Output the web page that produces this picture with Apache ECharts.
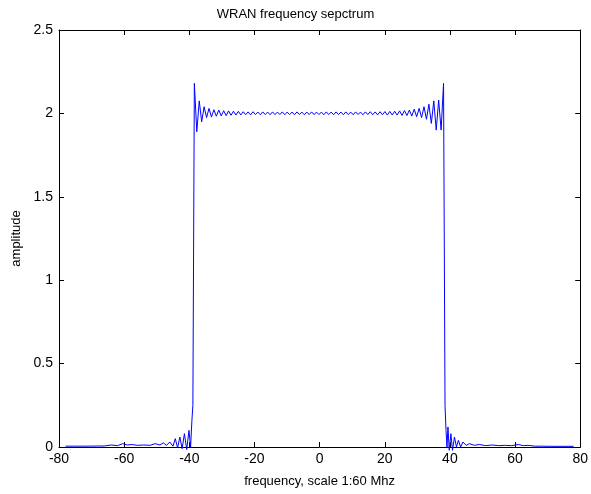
<!DOCTYPE html>
<html>
<head>
<meta charset="utf-8">
<script src="https://cdn.jsdelivr.net/npm/echarts@6/dist/echarts.min.js"></script>
<style>html,body{margin:0;padding:0;background:#fff;}#c{width:591px;height:494px;}</style>
</head>
<body>
<div id="c"></div>
<script>
// Left stop-band tail
var leftTailX = [-78, -72, -66, -64, -62, -60.5, -59, -57.5, -56, -54, -52, -50.5, -49, -48, -47, -46, -45, -44.3, -43.6, -42.9, -42.2, -41.5, -40.8, -40.1, -39.6, -39.2, -38.9];
var leftTailY = [0.005, 0.005, 0.006, 0.012, 0.008, 0.02, 0.012, 0.015, 0.01, 0.012, 0.01, 0.02, 0.012, 0.025, 0.01, 0.03, 0.005, 0.05, -0.005, 0.06, -0.01, 0.08, -0.015, 0.1, 0.0, 0.16, 0.25];

// Pass band ripple (peaks and troughs)
var passX = [-38.45, -37.70, -36.95, -36.20, -35.45, -34.70, -33.95, -33.20, -32.45, -31.70,
  -30.95, -30.20, -29.45, -28.70, -27.95, -27.20, -26.45, -25.70, -24.95, -24.20,
  -23.45, -22.70, -21.95, -21.20, -20.45, -19.70, -18.95, -18.20, -17.45, -16.70,
  -15.95, -15.20, -14.45, -13.70, -12.95, -12.20, -11.45, -10.70, -9.95, -9.20,
  -8.45, -7.70, -6.95, -6.20, -5.45, -4.70, -3.95, -3.20, -2.45, -1.70,
  -0.95, -0.20, 0.55, 1.30, 2.05, 2.80, 3.55, 4.30, 5.05, 5.80,
  6.55, 7.30, 8.05, 8.80, 9.55, 10.30, 11.05, 11.80, 12.55, 13.30,
  14.05, 14.80, 15.55, 16.30, 17.05, 17.80, 18.55, 19.30, 20.05, 20.80,
  21.55, 22.30, 23.05, 23.80, 24.55, 25.30, 26.05, 26.80, 27.55, 28.30,
  29.05, 29.80, 30.55, 31.30, 32.05, 32.80, 33.55, 34.30, 35.05, 35.80,
  36.55, 37.30, 38.05];
var passY = [2.18, 1.89, 2.075, 1.95, 2.04, 1.975, 2.03, 1.978, 2.022, 1.983,
  2.02, 1.985, 2.016, 1.987, 2.015, 1.989, 2.013, 1.99, 2.012, 1.991,
  2.010, 1.992, 2.009, 1.991, 2.010, 1.993, 2.008, 1.992, 2.009, 1.993,
  2.008, 1.992, 2.009, 1.993, 2.008, 1.993, 2.009, 1.992, 2.008, 1.993,
  2.008, 1.992, 2.009, 1.993, 2.008, 1.992, 2.008, 1.993, 2.009, 1.992,
  2.008, 1.993, 2.008, 1.992, 2.009, 1.993, 2.008, 1.992, 2.009, 1.993,
  2.008, 1.992, 2.009, 1.993, 2.008, 1.992, 2.009, 1.993, 2.008, 1.992,
  2.009, 1.993, 2.010, 1.992, 2.009, 1.991, 2.010, 1.992, 2.011, 1.990,
  2.012, 1.990, 2.013, 1.99, 2.015, 1.988, 2.017, 1.987, 2.02, 1.984,
  2.025, 1.98, 2.03, 1.975, 2.04, 1.965, 2.055, 1.94, 2.075, 1.90,
  2.08, 1.90, 2.18];

// Right stop-band tail
var rightTailX = [38.5, 38.8, 39.1, 39.4, 39.8, 40.3, 40.8, 41.4, 42.0, 42.6, 43.3, 44.0, 45, 46, 47.5, 49, 51, 53, 55, 57, 59, 61, 62.5, 64, 66, 72, 78];
var rightTailY = [0.25, 0.1, 0.0, 0.12, -0.02, 0.08, -0.02, 0.06, 0.0, 0.04, 0.0, 0.03, 0.01, 0.02, 0.01, 0.015, 0.008, 0.012, 0.008, 0.01, 0.008, 0.015, 0.008, 0.01, 0.005, 0.004, 0.004];

var xTicks = [-80, -60, -40, -20, 0, 20, 40, 60, 80];
var yTicks = [0, 0.5, 1, 1.5, 2, 2.5];

var data = [];
function add(xs, ys) { for (var i = 0; i < xs.length; i++) data.push([xs[i], ys[i]]); }
add(leftTailX, leftTailY);
add(passX, passY);
add(rightTailX, rightTailY);

var font = 'Liberation Sans, Arial, sans-serif';
var chart = echarts.init(document.getElementById('c'), null, {renderer: 'canvas'});
function axisCommon() {
  return {
    axisLine: {show: true, onZero: false, lineStyle: {color: '#000', width: 1}},
    axisTick: {show: true, inside: true, length: 5, lineStyle: {color: '#000'}},
    splitLine: {show: false}
  };
}
chart.setOption({
  animation: false,
  backgroundColor: '#fff',
  title: {
    text: 'WRAN frequency sepctrum',
    left: 'center', top: 3,
    textStyle: {fontFamily: font, fontSize: 13, fontWeight: 'normal', color: '#000'}
  },
  grid: {left: 59, right: 10, top: 30, bottom: 47, containLabel: false},
  xAxis: [
    Object.assign({
      type: 'value', min: xTicks[0], max: xTicks[xTicks.length - 1], interval: 20, position: 'bottom',
      name: 'frequency, scale 1:60 Mhz', nameLocation: 'middle', nameGap: 28,
      nameTextStyle: {fontFamily: font, fontSize: 13, color: '#000'},
      axisLabel: {fontFamily: font, fontSize: 14, color: '#000', margin: 5}
    }, axisCommon()),
    Object.assign({
      type: 'value', min: xTicks[0], max: xTicks[xTicks.length - 1], interval: 20, position: 'top',
      axisLabel: {show: false}
    }, axisCommon())
  ],
  yAxis: [
    Object.assign({
      type: 'value', min: yTicks[0], max: yTicks[yTicks.length - 1], interval: 0.5, position: 'left',
      name: 'amplitude', nameLocation: 'middle', nameGap: 36,
      nameTextStyle: {fontFamily: font, fontSize: 13, color: '#000'},
      axisLabel: {fontFamily: font, fontSize: 14, color: '#000', margin: 6}
    }, axisCommon()),
    Object.assign({
      type: 'value', min: yTicks[0], max: yTicks[yTicks.length - 1], interval: 0.5, position: 'right',
      axisLabel: {show: false}
    }, axisCommon())
  ],
  series: [{
    type: 'line', xAxisIndex: 0, yAxisIndex: 0,
    data: data, showSymbol: false, clip: false,
    lineStyle: {color: '#0000ff', width: 1}
  }]
});
</script>
</body>
</html>
